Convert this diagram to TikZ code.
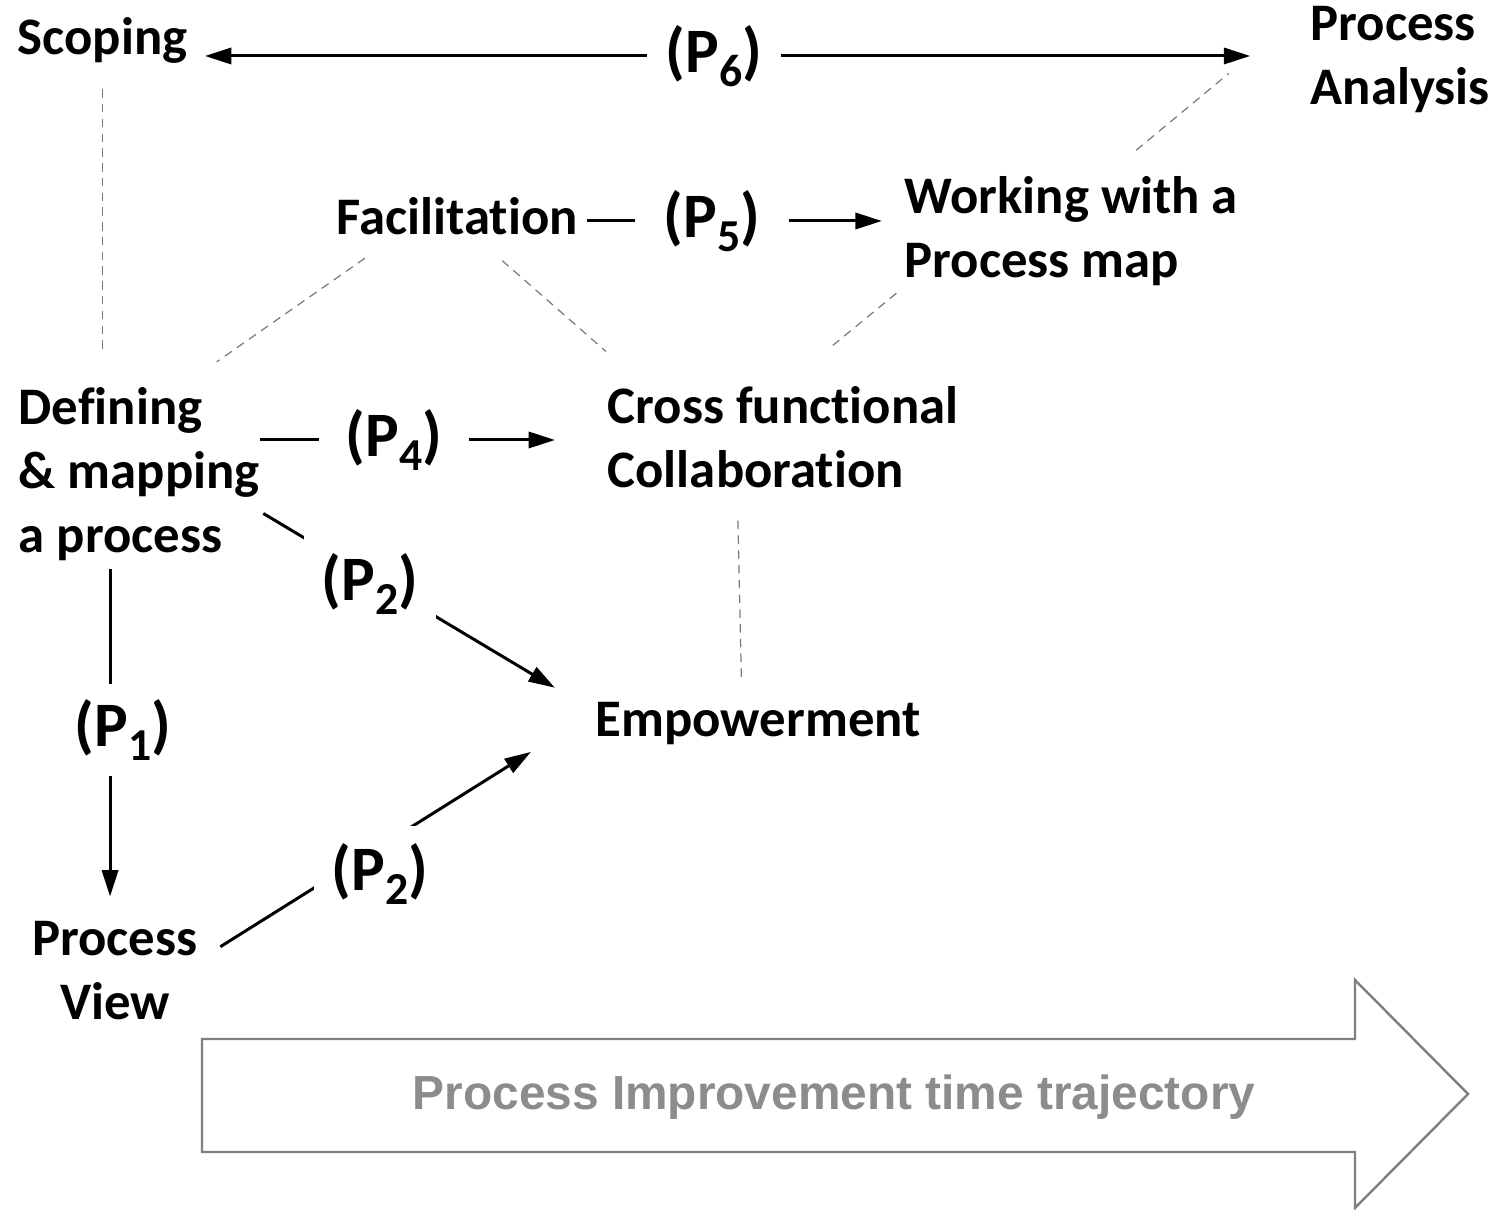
\documentclass[tikz,border=0pt]{standalone}
\usepackage{fontspec}
\setmainfont{Carlito}[Ligatures=NoCommon]
\newfontfamily\arialfont{Liberation Sans}
\usetikzlibrary{arrows.meta,calc,backgrounds}
\definecolor{trackgray}{HTML}{808080}
\definecolor{tracktext}{HTML}{8C8C8C}
\definecolor{tiegray}{HTML}{7A7A7A}
\newcommand{\propsub}[1]{\raisebox{-4pt}{\fontsize{13}{13}\selectfont#1}}
\tikzset{
  stage/.style={font=\bfseries\fontsize{15}{18.2}\selectfont, align=left, inner sep=0pt},
  prop/.style={font=\bfseries\fontsize{18}{20}\selectfont, fill=white, inner sep=5pt},
  flow/.style={line width=0.85pt},
  tie/.style={tiegray, line width=0.35pt, dash pattern=on 2.4pt off 1.8pt},
}

\begin{document}
\begin{tikzpicture}[x=0.01cm,y=-0.01cm,>={Triangle[length=7.5pt,width=4.6pt]}]
\useasboundingbox (0,0) rectangle (1499,1210);

% stages (base = baseline of the last line)
\node[stage, anchor=base west] (scoping)  at (17,55)   {Scoping};
\node[stage, anchor=base west] (analysis) at (1310,105) {Process\\Analysis};
\node[stage, anchor=base west] (facil)    at (336,235) {Facilitation};
\node[stage, anchor=base west] (working)  at (904,278) {Working with a\\Process map};
\node[stage, anchor=base west] (defining) at (18,553)  {Defining\\\& mapping\\a process};
\node[stage, anchor=base west] (cross)    at (607,488) {Cross functional\\Collaboration};
\node[stage, anchor=base west] (empower)  at (595,737) {Empowerment};
\node[stage, anchor=base, align=center] (view) at (115,1020) {Process\\View};

% propositions
\node[prop, inner xsep=5.4pt]             (p6)  at (714,56)  {(P\propsub{6})};
\node[prop, inner xsep=8.2pt]             (p5)  at (712,221) {(P\propsub{5})};
\node[prop, inner xsep=7.7pt]             (p4)  at (394,440) {(P\propsub{4})};
\node[prop, inner ysep=4.5pt]             (p1)  at (123,730) {(P\propsub{1})};
\node[prop]                               (p2a) at (370,584) {(P\propsub{2})};
\node[prop]                               (p2b) at (380,874) {(P\propsub{2})};

% time trajectory
\draw[trackgray, line width=0.7pt] (202,1039) -- (1355,1039) -- (1355,980) -- (1468,1094)
    -- (1355,1208) -- (1355,1152) -- (202,1152) -- cycle;
\node[font=\arialfont\bfseries\fontsize{13.6}{16}\selectfont, text=tracktext, anchor=base]
    (trajectory) at (834,1110) {Process Improvement time trajectory};

\begin{scope}[on background layer]
% proposition arrows
\draw[flow, <->, shorten <=4.8pt, shorten >=17pt] (scoping.east |- p6) -- (analysis.west |- p6);
\draw[flow, ->, shorten <=2.5pt, shorten >=6.3pt] (facil.east |- p5) -- (working.west |- p5);
\draw[flow, ->, shorten >=14.8pt] (defining.east |- p4) -- (cross.west |- p4);
\draw[flow, ->, shorten <=2pt, shorten >=7pt] ([xshift=-1.4pt]view |- defining.south) -- ([xshift=-1.4pt]view.north);
\draw[flow, ->, shorten <=1pt, shorten >=13.3pt] (defining.-17) -- ([yshift=3.5pt]empower.west);
\draw[flow, ->, shorten <=7.4pt, shorten >=21.5pt] ([yshift=3pt]view.east) -- ([yshift=3.5pt]empower.west);
% dashed ties
\draw[tie, shorten <=7pt, shorten >=10.5pt] (scoping.south) -- (scoping.south |- defining.north);
\draw[tie, shorten <=11pt, shorten >=12.6pt] ($(facil.south west)!.25!(facil.south east)$)
    -- ($(defining.north west)!.67!(defining.north east)$);
\draw[tie, shorten <=10.6pt, shorten >=15pt] ($(facil.south west)!.57!(facil.south east)$)
    -- ($(cross.north west)!.11!(cross.north east)$);
\draw[tie, shorten <=2.8pt, shorten >=16.7pt] (working.south west) -- (cross.north);
\draw[tie, shorten <=11.6pt, shorten >=30pt] ($(working.north west)!.6!(working.north east)$)
    -- (analysis.north west);
\draw[tie, shorten <=9pt, shorten >=6.5pt] ($(cross.south west)!.37!(cross.south east)$)
    -- ($(empower.north west)!.45!(empower.north east)$);
\end{scope}
\end{tikzpicture}
\end{document}
